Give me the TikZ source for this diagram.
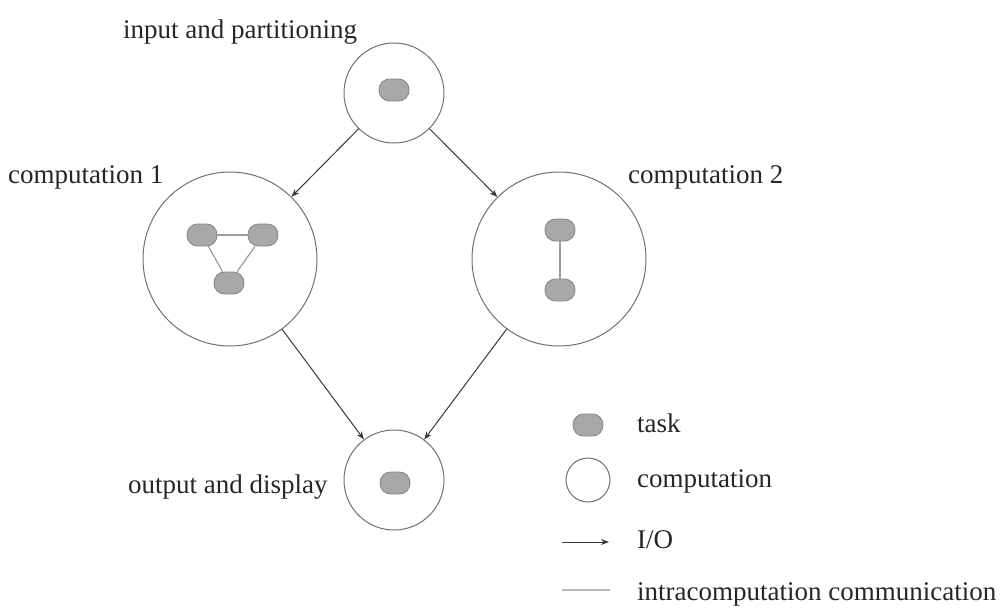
\documentclass[tikz,border=0pt]{standalone}
\usepackage{fontspec}
\setmainfont{Liberation Serif}
\usetikzlibrary{arrows.meta}
\definecolor{circ}{HTML}{707070}
\definecolor{taskfill}{HTML}{A8A8A8}
\definecolor{taskdraw}{HTML}{858585}
\definecolor{intra}{HTML}{9C9C9C}
\definecolor{arr}{HTML}{383838}
\tikzset{
  comp/.style={circle, draw=circ, line width=1pt, inner sep=0pt},
  task/.style={rectangle, rounded corners=10.5pt, draw=taskdraw, fill=taskfill, line width=0.8pt, minimum width=30pt, minimum height=22pt, inner sep=0pt},
  io/.style={draw=arr, line width=1pt, -{Stealth[length=8pt,width=6pt]}},
  intraline/.style={draw=intra, line width=1.2pt},
  lbl/.style={anchor=base west, inner sep=0pt, font=\fontsize{27}{32}\selectfont, text=black!85}
}
\begin{document}
\begin{tikzpicture}[x=1pt,y=-1pt]
\useasboundingbox (0,0) rectangle (1002,608);
% computation circles
\node[comp, minimum size=100pt] (top) at (394,93) {};
\node[comp, minimum size=174pt] (c1) at (230,259) {};
\node[comp, minimum size=174pt] (c2) at (559,259) {};
\node[comp, minimum size=100pt] (bot) at (394,480) {};
% tasks
\node[task] (t0) at (394,90) {};
\node[task] (a1) at (202,235) {};
\node[task] (a2) at (263,235) {};
\node[task] (a3) at (229,283) {};
\node[task] (b1) at (560,230) {};
\node[task] (b2) at (560,290) {};
\node[task] (t9) at (395,483) {};
% intracomputation communication
\draw[intraline] (a1) -- (a2);
\draw[intraline] (a1) -- (a3);
\draw[intraline] (a2) -- (a3);
\draw[intraline] (b1) -- (b2);
% I/O
\draw[io] (top) -- (c1);
\draw[io] (top) -- (c2);
\draw[io] (c1) -- (bot);
\draw[io] (c2) -- (bot);
% labels
\node[lbl] (l0) at (123,38) {input and partitioning};
\node[lbl] (l1) at (8,183) {computation 1};
\node[lbl] (l2) at (628,183) {computation 2};
\node[lbl] (l3) at (128,493) {output and display};
% legend
\node[task] (kt) at (588,425) {};
\node[comp, minimum size=44pt] (kc) at (588,480) {};
\coordinate (ka1) at (562,542);
\coordinate (ka2) at (609,542);
\draw[io] (ka1) -- (ka2);
\coordinate (kl1) at (562,590);
\coordinate (kl2) at (610,590);
\draw[intraline, draw=intra!70] (kl1) -- (kl2);
\node[lbl] (k1) at (637,432) {task};
\node[lbl] (k2) at (637,487) {computation};
\node[lbl] (k3) at (637,548) {I/O};
\node[lbl] (k4) at (637,600) {intracomputation communication};
\end{tikzpicture}
\end{document}
